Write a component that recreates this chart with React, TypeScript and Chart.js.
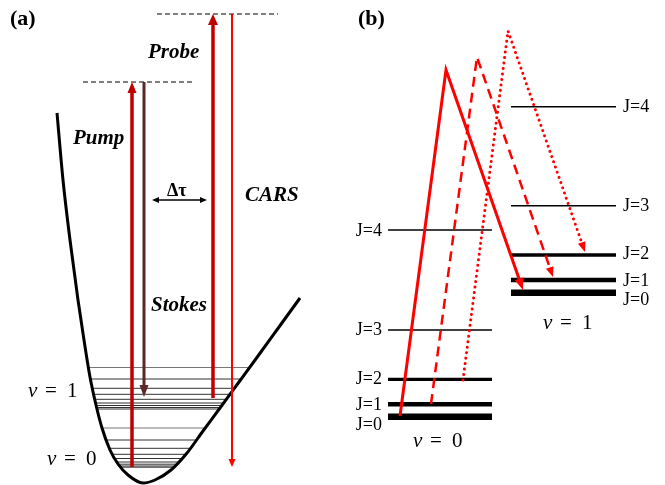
import React, { useEffect, useRef } from 'react';
import { Chart, registerables } from 'chart.js';

Chart.register(...registerables);

const W = 665;
const H = 485;

// ---------- Panel (a): potential curve (r, E) ----------
const curveR = [57, 63, 70, 78, 84, 90, 96, 102, 110, 118, 128, 143, 155, 171, 187, 203, 220, 239, 258, 279, 300];
const curveE = [113, 180, 240, 300, 340, 377, 405, 428, 450, 464, 475, 483, 480, 470, 453, 431, 408, 382, 356, 327, 298];

// rotational sub-levels inside the well (v=1 group, then v=0 group)
const wellLevelE = [367.5, 379, 388.3, 394.3, 399.3, 403, 405.5, 407.5, 409, 428, 440, 448.3, 454.3, 458.5, 462, 464.2, 466, 467.2];
const wellLevelLeft = [88.5, 90.4, 92.4, 93.7, 94.8, 95.6, 96.1, 96.7, 97.1, 102, 106.4, 109.4, 112.5, 114.9, 116.9, 118.2, 119.8, 120.9];
const wellLevelRight = [249.6, 241.2, 234.4, 230, 226.4, 223.7, 221.9, 220.4, 219.3, 205.2, 196.5, 190.4, 185.8, 182.8, 179.5, 177.5, 174.8, 173.6];

// virtual levels (dashed)
const virtualE = [82, 14];
const virtualLeft = [83, 157];
const virtualRight = [193, 278];

// beams: x, start E, end E
const beamNames = ['Pump', 'Stokes', 'Probe', 'CARS'];
const beamX = [132, 144, 213, 232];
const beamFrom = [467, 82, 398, 14];
const beamTo = [82, 397, 14, 467];

// delay arrow
const delayX = [152, 207];
const delayE = 200;

// ---------- Panel (b): rotational levels ----------
const jLabels = ['J=0', 'J=1', 'J=2', 'J=3', 'J=4'];
const v0LevelE = [416.7, 404.3, 379.3, 330, 230];
const v1LevelE = [292.7, 280, 255, 205.7, 106.7];
const v0Span = [388, 492];
const v1Span = [511, 616];

// transition paths (start, peak, end)
const solidPathX = [400, 446, 523];
const solidPathE = [416, 70, 290];
const dashedPathX = [431, 477, 553];
const dashedPathE = [404, 57, 277];
const dottedPathX = [463, 508, 585];
const dottedPathE = [380, 31, 252];

const SERIF = '"Liberation Serif", "Times New Roman", serif';

type Txt = { t: string; x: number; y: number; font: string; align?: CanvasTextAlign };

function vLabel(x: number, y: number, digit: string): Txt[] {
  return [
    { t: 'v', x, y, font: `italic 21px ${SERIF}` },
    { t: '=', x: x + 17, y, font: `21px ${SERIF}` },
    { t: digit, x: x + 39, y, font: `21px ${SERIF}` },
  ];
}

const jBaseV0 = [430, 410, 384, 335, 236];
const jBaseV1 = [305, 286, 259, 211, 112];

const texts: Txt[] = [
  { t: '(a)', x: 10, y: 25, font: `bold 22px ${SERIF}` },
  { t: '(b)', x: 358, y: 25, font: `bold 22px ${SERIF}` },
  { t: 'Probe', x: 148, y: 58, font: `italic bold 21px ${SERIF}` },
  { t: 'Pump', x: 73, y: 144, font: `italic bold 21px ${SERIF}` },
  { t: 'CARS', x: 245, y: 201, font: `italic bold 21px ${SERIF}` },
  { t: 'Stokes', x: 151, y: 311, font: `italic bold 21px ${SERIF}` },
  { t: 'Δτ', x: 167, y: 196, font: `bold 18px ${SERIF}` },
  ...vLabel(28, 397, '1'),
  ...vLabel(47, 465, '0'),
  ...vLabel(413, 447, '0'),
  ...vLabel(543, 329, '1'),
  ...jLabels.map((t, i) => ({ t, x: 382, y: jBaseV0[i], font: `18px ${SERIF}`, align: 'right' as CanvasTextAlign })),
  ...jLabels.map((t, i) => ({ t, x: 623, y: jBaseV1[i], font: `18px ${SERIF}` })),
];

const arrowPlugin = {
  id: 'arrowHeads',
  beforeDatasetDraw(chart: any, args: any) {
    const ds = chart.data.datasets[args.index];
    if (!ds.head) return;
    const xs = chart.scales.x, ys = chart.scales.y;
    const pts = ds.data;
    const n = pts.length;
    const place = (iTip: number, iPrev: number) => {
      const tx = xs.getPixelForValue(pts[iTip].x), ty = ys.getPixelForValue(pts[iTip].y);
      const px = xs.getPixelForValue(pts[iPrev].x), py = ys.getPixelForValue(pts[iPrev].y);
      const d = Math.hypot(tx - px, ty - py);
      const el = args.meta.data[iTip];
      el.x = tx - ((tx - px) / d) * ds.head.len * 0.6;
      el.y = ty - ((ty - py) / d) * ds.head.len * 0.6;
    };
    if (ds.arrowEnd) place(n - 1, n - 2);
    if (ds.arrowStart) place(0, 1);
  },
  afterDatasetDraw(chart: any, args: any) {
    const ds = chart.data.datasets[args.index];
    if (!ds.head) return;
    const ctx = chart.ctx;
    const xs = chart.scales.x, ys = chart.scales.y;
    const pts = ds.data;
    const n = pts.length;
    const draw = (iTip: number, iPrev: number) => {
      const tx = xs.getPixelForValue(pts[iTip].x), ty = ys.getPixelForValue(pts[iTip].y);
      const px = xs.getPixelForValue(pts[iPrev].x), py = ys.getPixelForValue(pts[iPrev].y);
      const d = Math.hypot(tx - px, ty - py);
      const ux = (tx - px) / d, uy = (ty - py) / d;
      const bx = tx - ux * ds.head.len, by = ty - uy * ds.head.len;
      const hw = ds.head.w / 2;
      ctx.save();
      ctx.setLineDash([]);
      ctx.fillStyle = ds.borderColor;
      ctx.beginPath();
      ctx.moveTo(tx, ty);
      ctx.lineTo(bx - uy * hw, by + ux * hw);
      ctx.lineTo(bx + uy * hw, by - ux * hw);
      ctx.closePath();
      ctx.fill();
      ctx.restore();
    };
    if (ds.arrowEnd) draw(n - 1, n - 2);
    if (ds.arrowStart) draw(0, 1);
  },
};

const textPlugin = {
  id: 'texts',
  afterDatasetsDraw(chart: any) {
    const ctx = chart.ctx;
    const xs = chart.scales.x, ys = chart.scales.y;
    ctx.save();
    ctx.fillStyle = '#000';
    ctx.textBaseline = 'alphabetic';
    texts.forEach((tx) => {
      ctx.font = tx.font;
      ctx.textAlign = tx.align || 'left';
      ctx.fillText(tx.t, xs.getPixelForValue(tx.x), ys.getPixelForValue(tx.y));
    });
    ctx.restore();
  },
};

function seg(x: number[], y: number[], extra: any) {
  return {
    data: x.map((xx, i) => ({ x: xx, y: y[i] })),
    showLine: true,
    pointRadius: 0,
    tension: 0,
    fill: false,
    borderCapStyle: 'butt',
    ...extra,
  };
}

function buildDatasets() {
  const ds: any[] = [];
  // well levels
  wellLevelE.forEach((e, i) => {
    ds.push(seg([wellLevelLeft[i], wellLevelRight[i]], [e, e], {
      borderColor: i === 0 || i === 9 ? '#777' : '#333', borderWidth: 1, order: 5,
    }));
  });
  // potential curve
  ds.push({
    data: curveR.map((r, i) => ({ x: r, y: curveE[i] })),
    showLine: true, pointRadius: 0, borderColor: '#000', borderWidth: 3,
    cubicInterpolationMode: 'monotone', fill: false, order: 4,
  });
  // virtual levels
  virtualE.forEach((e, i) => {
    ds.push(seg([virtualLeft[i], virtualRight[i]], [e, e], {
      borderColor: '#000', borderWidth: 1, borderDash: [5, 3], order: 4,
    }));
  });
  // beams
  const beamColors = ['#c00000', '#5c2828', '#c00000', '#ff0000'];
  const beamWidths = [3.5, 3, 3.5, 2];
  const beamHeads = [{ len: 11, w: 9 }, { len: 12, w: 9 }, { len: 11, w: 10 }, { len: 8, w: 7 }];
  beamNames.forEach((name, i) => {
    ds.push(seg([beamX[i], beamX[i]], [beamFrom[i], beamTo[i]], {
      label: name, borderColor: beamColors[i], borderWidth: beamWidths[i],
      head: beamHeads[i], arrowEnd: true, order: 2,
    }));
  });
  // delay arrow
  ds.push(seg(delayX, [delayE, delayE], {
    borderColor: '#000', borderWidth: 1.3, head: { len: 7, w: 6 }, arrowEnd: true, arrowStart: true, order: 2,
  }));
  // panel b levels
  const widths = [6.5, 4.5, 3.3, 1.5, 1.5];
  v0LevelE.forEach((e, i) => {
    ds.push(seg(v0Span, [e, e], { borderColor: '#000', borderWidth: widths[i], order: 3 }));
  });
  v1LevelE.forEach((e, i) => {
    ds.push(seg(v1Span, [e, e], { borderColor: '#000', borderWidth: widths[i], order: 3 }));
  });
  // transitions
  ds.push(seg(solidPathX, solidPathE, {
    borderColor: '#ff0000', borderWidth: 3, head: { len: 12, w: 9 }, arrowEnd: true, order: 1, borderJoinStyle: 'miter',
  }));
  ds.push(seg(dashedPathX, dashedPathE, {
    borderColor: '#ff0000', borderWidth: 2.5, borderDash: [10, 6], head: { len: 10, w: 8 }, arrowEnd: true, order: 1,
  }));
  ds.push(seg(dottedPathX, dottedPathE, {
    borderColor: '#ff0000', borderWidth: 3, borderDash: [0.01, 5.5], borderCapStyle: 'round',
    head: { len: 10, w: 8 }, arrowEnd: true, order: 1,
  }));
  return ds;
}

export default function App() {
  const ref = useRef<HTMLCanvasElement | null>(null);
  useEffect(() => {
    document.body.style.margin = '0';
    document.body.style.overflow = 'hidden';
    const canvas = ref.current;
    if (!canvas) return;
    const chart = new Chart(canvas, {
      type: 'scatter',
      data: { datasets: buildDatasets() },
      options: {
        responsive: false,
        maintainAspectRatio: false,
        devicePixelRatio: 1,
        animation: false,
        events: [],
        layout: { padding: 0 },
        plugins: { legend: { display: false }, tooltip: { enabled: false } },
        scales: {
          x: { type: 'linear', min: 0, max: W, display: false },
          y: { type: 'linear', min: 0, max: H, reverse: true, display: false },
        },
        elements: { line: { clip: false } as any },
      } as any,
      plugins: [arrowPlugin, textPlugin],
    });
    return () => chart.destroy();
  }, []);
  return (
    <div style={{ width: W, height: H, background: '#fff' }}>
      <canvas ref={ref} width={W} height={H} style={{ display: 'block', width: W, height: H }} />
    </div>
  );
}
